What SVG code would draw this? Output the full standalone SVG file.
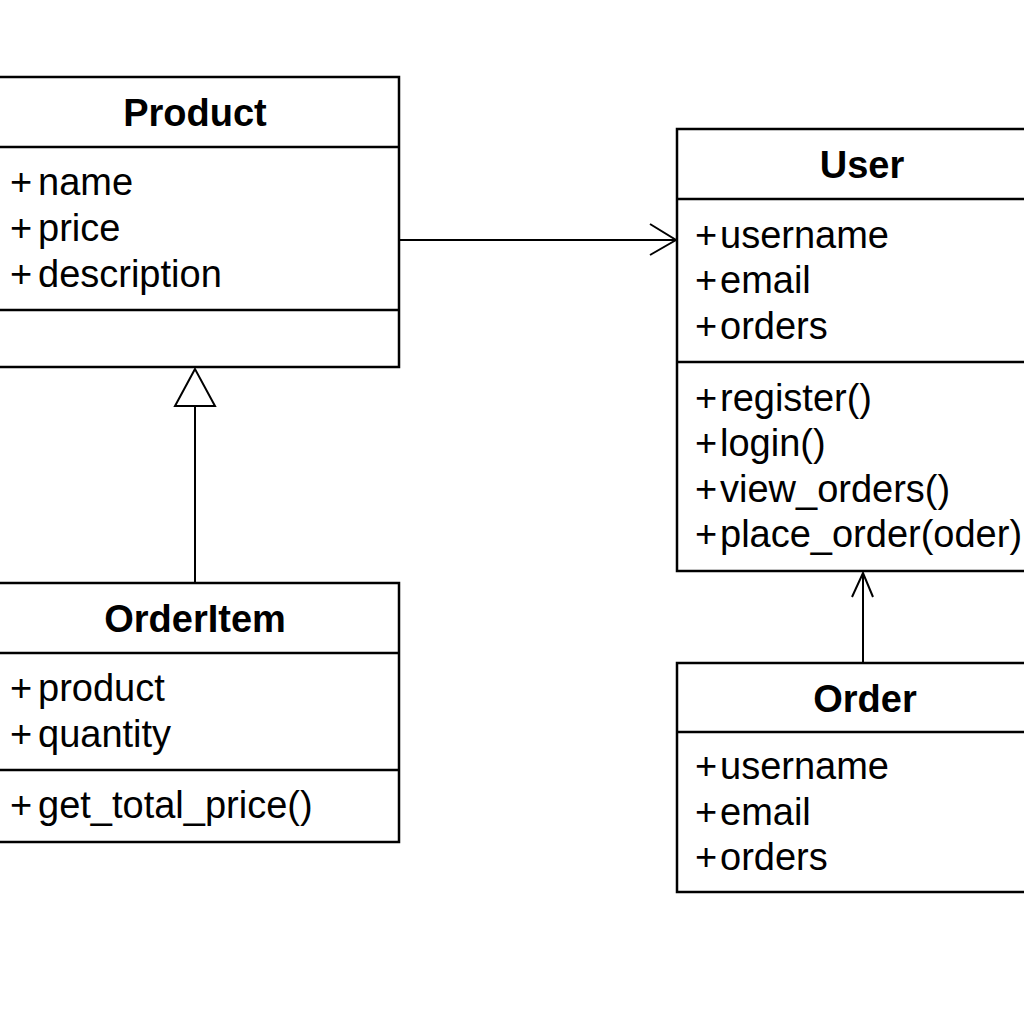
<svg xmlns="http://www.w3.org/2000/svg" width="1024" height="1024" viewBox="0 0 1024 1024">
<style>
.box{fill:#fff;stroke:#000;stroke-width:2.5}
.ln{stroke:#000;stroke-width:2.5;fill:none}
.t{font-family:"Liberation Sans",Arial,sans-serif;font-size:38px;font-weight:bold;text-anchor:middle;fill:#000}
.a{font-family:"Liberation Sans",Arial,sans-serif;font-size:38px;fill:#000}
.c{stroke:#000;stroke-width:2;fill:none}
</style>
<rect width="1024" height="1024" fill="#fff"/>
<g id="connectors">
<line class="c" x1="399" y1="240" x2="676" y2="240"/>
<polyline class="c" points="650,224 676,240 650,255"/>
<line class="c" x1="195" y1="406" x2="195" y2="583"/>
<polygon points="195,369 175,406 215,406" fill="#fff" stroke="#000" stroke-width="2"/>
<line class="c" x1="863" y1="574" x2="863" y2="662"/>
<polyline class="c" points="852,597 863,573 873,597"/>
</g>
<g id="Product">
<rect class="box" x="-5" y="77" width="404" height="290"/>
<line class="ln" x1="-5" y1="147" x2="399" y2="147"/>
<line class="ln" x1="-5" y1="310" x2="399" y2="310"/>
<text class="t" x="195" y="126">Product</text>
<text class="a" x="10" y="195">+<tspan x="38">name</tspan></text>
<text class="a" x="10" y="241">+<tspan x="38">price</tspan></text>
<text class="a" x="10" y="287">+<tspan x="38">description</tspan></text>
</g>
<g id="User">
<rect class="box" x="677" y="129" width="400" height="442"/>
<line class="ln" x1="677" y1="199" x2="1077" y2="199"/>
<line class="ln" x1="677" y1="362" x2="1077" y2="362"/>
<text class="t" x="862" y="178">User</text>
<text class="a" x="695" y="248">+<tspan x="720">username</tspan></text>
<text class="a" x="695" y="293">+<tspan x="720">email</tspan></text>
<text class="a" x="695" y="339">+<tspan x="720">orders</tspan></text>
<text class="a" x="695" y="411">+<tspan x="720">register()</tspan></text>
<text class="a" x="695" y="456">+<tspan x="720">login()</tspan></text>
<text class="a" x="695" y="502">+<tspan x="720">view_orders()</tspan></text>
<text class="a" x="695" y="547">+<tspan x="720">place_order(oder)</tspan></text>
</g>
<g id="OrderItem">
<rect class="box" x="-5" y="583" width="404" height="259"/>
<line class="ln" x1="-5" y1="653" x2="399" y2="653"/>
<line class="ln" x1="-5" y1="770" x2="399" y2="770"/>
<text class="t" x="195" y="632">OrderItem</text>
<text class="a" x="10" y="701">+<tspan x="38">product</tspan></text>
<text class="a" x="10" y="747">+<tspan x="38">quantity</tspan></text>
<text class="a" x="10" y="818">+<tspan x="38">get_total_price()</tspan></text>
</g>
<g id="Order">
<rect class="box" x="677" y="663" width="400" height="229"/>
<line class="ln" x1="677" y1="732" x2="1077" y2="732"/>
<text class="t" x="865" y="712">Order</text>
<text class="a" x="695" y="779">+<tspan x="720">username</tspan></text>
<text class="a" x="695" y="825">+<tspan x="720">email</tspan></text>
<text class="a" x="695" y="870">+<tspan x="720">orders</tspan></text>
</g>
</svg>
